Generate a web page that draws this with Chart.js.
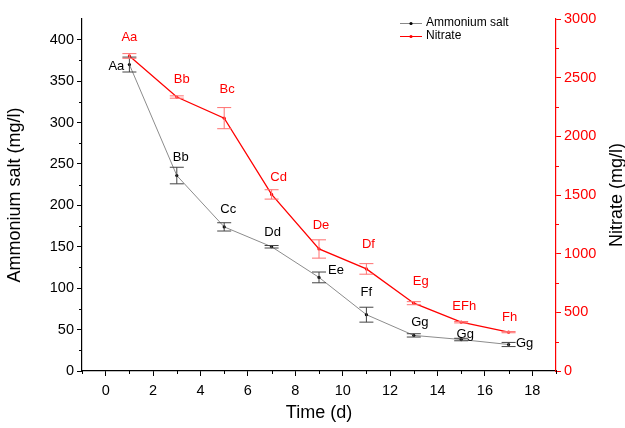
<!DOCTYPE html>
<html>
<head>
<meta charset="utf-8">
<script src="https://cdn.jsdelivr.net/npm/chart.js@4"></script>
<style>
  html, body { margin: 0; padding: 0; background: #fff; }
  #wrap { width: 625px; height: 428px; }
</style>
</head>
<body>
<div id="wrap"><canvas id="nChart" width="625" height="428"></canvas></div>
<script>
// values
var days = [1, 3, 5, 7, 9, 11, 13, 15, 17];
var ammonium = [370, 236, 174, 150, 113, 68, 43, 38, 32];
var ammoniumErr = [9, 10, 5, 1.5, 6.5, 9, 2, 1.5, 2.5];
var nitrate = [2685, 2335, 2155, 1505, 1040, 870, 578, 416, 331];
var nitrateErr = [20, 10, 90, 40, 78, 45, 13, 6, 5];
var ammoniumLetters = ['Aa', 'Bb', 'Cc', 'Dd', 'Ee', 'Ff', 'Gg', 'Gg', 'Gg'];
var nitrateLetters = ['Aa', 'Bb', 'Bc', 'Cd', 'De', 'Df', 'Eg', 'EFh', 'Fh'];
var xTicks = [0, 2, 4, 6, 8, 10, 12, 14, 16, 18];
var leftTicks = [0, 50, 100, 150, 200, 250, 300, 350, 400];
var rightTicks = [0, 500, 1000, 1500, 2000, 2500, 3000];

// label offsets (px) from each point
var ammoniumOffsets = [[-13, 2], [4, -18], [4, -17], [1, -14], [17, -7], [0, -22], [6, -13], [4, -5], [16, -1]];
var nitrateOffsets = [[0, -19], [5, -18], [3, -29], [7, -17], [2, -24], [2, -24], [7, -22], [3, -16], [1, -15]];

var FONT = '"Liberation Sans", Arial, sans-serif';

function toXY(ys) {
  return days.map(function (d, i) { return { x: d, y: ys[i] }; });
}

var errorBars = {
  id: 'errorBars',
  afterDatasetsDraw: function (chart) {
    var ctx = chart.ctx;
    var x = chart.scales.x;
    var sets = [
      { vals: ammonium, err: ammoniumErr, scale: chart.scales.yL, color: '#444' },
      { vals: nitrate, err: nitrateErr, scale: chart.scales.yR, color: '#ff7070' }
    ];
    ctx.save();
    ctx.lineWidth = 1;
    sets.forEach(function (s) {
      ctx.strokeStyle = s.color;
      s.vals.forEach(function (v, i) {
        var px = x.getPixelForValue(days[i]);
        var top = s.scale.getPixelForValue(v + s.err[i]);
        var bot = s.scale.getPixelForValue(v - s.err[i]);
        ctx.beginPath();
        ctx.moveTo(px, top); ctx.lineTo(px, bot);
        ctx.moveTo(px - 7, top); ctx.lineTo(px + 7, top);
        ctx.moveTo(px - 7, bot); ctx.lineTo(px + 7, bot);
        ctx.stroke();
      });
    });
    ctx.restore();
  },
  afterDraw: function (chart) {
    var ctx = chart.ctx;
    var x = chart.scales.x;
    var yL = chart.scales.yL;
    var yR = chart.scales.yR;
    ctx.save();
    ctx.font = '13px ' + FONT;
    ctx.textAlign = 'center';
    ctx.textBaseline = 'middle';
    days.forEach(function (d, i) {
      var px = x.getPixelForValue(d);
      ctx.fillStyle = '#000';
      ctx.fillText(ammoniumLetters[i], px + ammoniumOffsets[i][0], yL.getPixelForValue(ammonium[i]) + ammoniumOffsets[i][1]);
      ctx.fillStyle = '#ff0000';
      ctx.fillText(nitrateLetters[i], px + nitrateOffsets[i][0], yR.getPixelForValue(nitrate[i]) + nitrateOffsets[i][1]);
    });

    // minor ticks
    ctx.lineWidth = 1;
    ctx.strokeStyle = '#000';
    ctx.beginPath();
    for (var v = 25; v < 425; v += 50) {
      var py = Math.round(yL.getPixelForValue(v)) + 0.5;
      ctx.moveTo(yL.right - 3, py); ctx.lineTo(yL.right, py);
    }
    for (var t = -1; t <= 19; t += 2) {
      var pxm = Math.round(x.getPixelForValue(t)) + 0.5;
      ctx.moveTo(pxm, x.top); ctx.lineTo(pxm, x.top + 3);
    }
    ctx.stroke();
    ctx.strokeStyle = '#ff0000';
    ctx.beginPath();
    for (var r = 250; r < 3000; r += 500) {
      var pyr = Math.round(yR.getPixelForValue(r)) + 0.5;
      ctx.moveTo(yR.left, pyr); ctx.lineTo(yR.left + 3, pyr);
    }
    ctx.stroke();

    // right axis title, reading bottom to top like the left one
    ctx.save();
    ctx.translate(617, (yR.top + yR.bottom) / 2);
    ctx.rotate(-Math.PI / 2);
    ctx.font = '18px ' + FONT;
    ctx.fillStyle = '#000';
    ctx.textAlign = 'center';
    ctx.textBaseline = 'middle';
    ctx.fillText('Nitrate (mg/l)', 0, 0);
    ctx.restore();

    // legend
    var lx = 400, items = [['Ammonium salt', '#888', '#000', 23], ['Nitrate', '#ff0000', '#ff0000', 36]];
    ctx.font = '12px ' + FONT;
    ctx.textAlign = 'left';
    items.forEach(function (it) {
      ctx.strokeStyle = it[1];
      ctx.beginPath();
      ctx.moveTo(lx, it[3] + 0.5); ctx.lineTo(lx + 22, it[3] + 0.5);
      ctx.stroke();
      ctx.fillStyle = it[2];
      ctx.beginPath();
      ctx.arc(lx + 11, it[3] + 0.5, 1.6, 0, Math.PI * 2);
      ctx.fill();
      ctx.fillStyle = '#000';
      ctx.fillText(it[0], lx + 26, it[3]);
    });
    ctx.restore();
  }
};

var ctx = document.getElementById('nChart').getContext('2d');
var nChart = new Chart(ctx, {
  type: 'line',
  data: {
    datasets: [{
      label: 'Ammonium salt',
      data: toXY(ammonium),
      yAxisID: 'yL',
      borderColor: '#8c8c8c',
      borderWidth: 1,
      pointRadius: 1.6,
      pointBackgroundColor: '#000',
      pointBorderColor: '#000',
      pointBorderWidth: 0
    }, {
      label: 'Nitrate',
      data: toXY(nitrate),
      yAxisID: 'yR',
      borderColor: '#ff0000',
      borderWidth: 1.3,
      pointRadius: 1.6,
      pointBackgroundColor: '#ff0000',
      pointBorderColor: '#ff0000',
      pointBorderWidth: 0
    }]
  },
  options: {
    responsive: false,
    animation: false,
    layout: { padding: { top: 19, left: 0, right: 0, bottom: 0 } },
    plugins: {
      legend: { display: false },
      tooltip: { enabled: false }
    },
    scales: {
      x: {
        type: 'linear',
        min: -1,
        max: 19,
        afterBuildTicks: function (s) { s.ticks = xTicks.map(function (v) { return { value: v }; }); },
        afterFit: function (s) { s.height = 57; },
        grid: { drawOnChartArea: false, tickLength: 5, tickColor: '#000' },
        border: { color: '#000', width: 1.2 },
        ticks: { color: '#000', font: { size: 14.5, family: FONT }, padding: 6, maxRotation: 0 },
        title: { display: true, text: 'Time (d)', color: '#000', font: { size: 18, family: FONT }, padding: { top: 4 } }
      },
      yL: {
        position: 'left',
        min: 0,
        max: 425,
        afterBuildTicks: function (s) { s.ticks = leftTicks.map(function (v) { return { value: v }; }); },
        afterFit: function (s) { s.width = 82; },
        grid: { drawOnChartArea: false, tickLength: 5, tickColor: '#000' },
        border: { color: '#000', width: 1.2 },
        ticks: { color: '#000', font: { size: 14.5, family: FONT }, padding: 3 },
        title: { display: true, text: 'Ammonium salt (mg/l)', color: '#000', font: { size: 18, family: FONT }, padding: { bottom: 4 } }
      },
      yR: {
        position: 'right',
        min: 0,
        max: 3000,
        afterBuildTicks: function (s) { s.ticks = rightTicks.map(function (v) { return { value: v }; }); },
        afterFit: function (s) { s.width = 69; },
        grid: { drawOnChartArea: false, tickLength: 5, tickColor: '#ff0000' },
        border: { color: '#ff0000', width: 1.2 },
        ticks: { color: '#ff0000', font: { size: 14.5, family: FONT }, padding: 3, callback: function (v) { return String(v); } },
        title: { display: false }
      }
    }
  },
  plugins: [errorBars]
});
</script>
</body>
</html>
